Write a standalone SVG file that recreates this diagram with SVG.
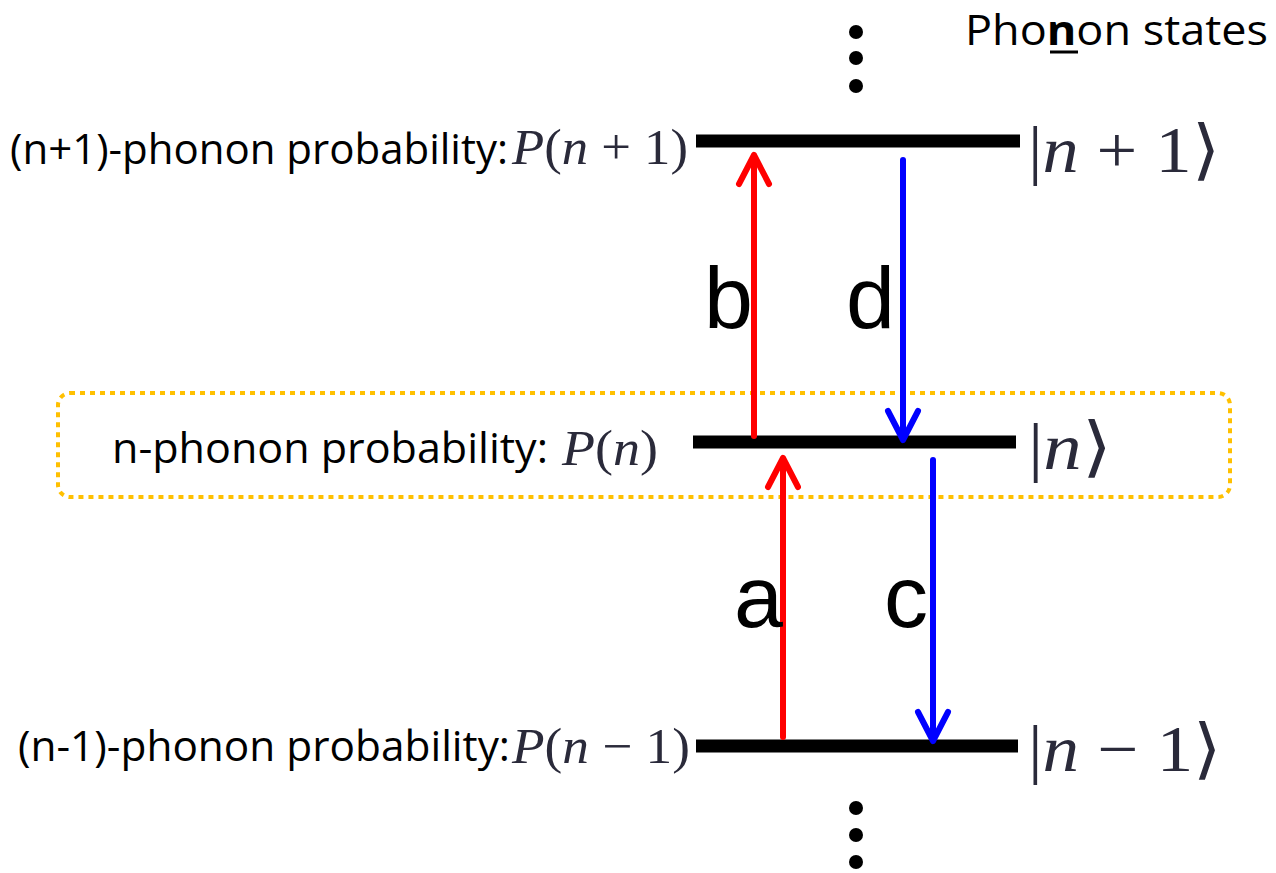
<svg xmlns="http://www.w3.org/2000/svg" width="1276" height="873" viewBox="0 0 1276 873">
<style>
.lbl{font-family:"Open Sans","Liberation Sans",sans-serif;font-size:42px;fill:#000}
.math{font-family:"Liberation Serif",serif;fill:#2a2a3a}
.mi{font-style:italic}
.big{font-family:"Liberation Sans",sans-serif;font-size:88px;fill:#000}
.lvl{stroke:#000;stroke-width:13}
.up{stroke:#ff0000;stroke-width:6;fill:none;stroke-linecap:round;stroke-linejoin:round}
.dn{stroke:#0000ff;stroke-width:6;fill:none;stroke-linecap:round;stroke-linejoin:round}
</style>
<rect width="1276" height="873" fill="#fff"/>
<g id="highlight">
<rect x="58" y="393" width="1172" height="104" rx="12" fill="none" stroke="#ffc000" stroke-width="4" stroke-dasharray="5 5"/>
</g>
<g id="title">
<text class="lbl" x="965" y="45" font-size="46" textLength="303" lengthAdjust="spacingAndGlyphs">Pho<tspan font-weight="bold">n</tspan>on states</text>
<line x1="1050" y1="52" x2="1078" y2="52" stroke="#000" stroke-width="3"/>
</g>
<g id="dots-top" fill="#000">
<circle cx="856" cy="32" r="7"/><circle cx="856" cy="58" r="7"/><circle cx="856" cy="86" r="7"/>
</g>
<g id="dots-bottom" fill="#000">
<circle cx="856" cy="808" r="7"/><circle cx="856" cy="835" r="7"/><circle cx="856" cy="862" r="7"/>
</g>
<g id="level-n-plus-1">
<line class="lvl" x1="696" y1="141" x2="1020" y2="141"/>
<text class="lbl" x="10" y="164" textLength="498" lengthAdjust="spacingAndGlyphs">(n+1)-phonon probability:</text>
<text class="math" x="512" y="164" font-size="50" textLength="176" lengthAdjust="spacingAndGlyphs"><tspan class="mi">P</tspan>(<tspan class="mi">n</tspan> + 1)</text>
<text class="math" x="1028" y="172" font-size="66" textLength="192" lengthAdjust="spacingAndGlyphs">|<tspan class="mi">n</tspan> + 1⟩</text>
</g>
<g id="level-n">
<line class="lvl" x1="693" y1="442" x2="1016" y2="442"/>
<text class="lbl" x="112" y="463" textLength="436" lengthAdjust="spacingAndGlyphs">n-phonon probability:</text>
<text class="math" x="562" y="465" font-size="50" textLength="96" lengthAdjust="spacingAndGlyphs"><tspan class="mi">P</tspan>(<tspan class="mi">n</tspan>)</text>
<text class="math" x="1028" y="469" font-size="66" textLength="84" lengthAdjust="spacingAndGlyphs">|<tspan class="mi">n</tspan>⟩</text>
</g>
<g id="level-n-minus-1">
<line class="lvl" x1="696" y1="746" x2="1018" y2="746"/>
<text class="lbl" x="18" y="761" textLength="492" lengthAdjust="spacingAndGlyphs">(n-1)-phonon probability:</text>
<text class="math" x="512" y="763" font-size="50" textLength="178" lengthAdjust="spacingAndGlyphs"><tspan class="mi">P</tspan>(<tspan class="mi">n</tspan> − 1)</text>
<text class="math" x="1028" y="771" font-size="66" textLength="194" lengthAdjust="spacingAndGlyphs">|<tspan class="mi">n</tspan> − 1⟩</text>
</g>
<g id="connectors">
<g id="arrow-b">
<line class="up" x1="754" y1="436" x2="754" y2="156"/>
<polyline class="up" points="739,184 754,155 769,184"/>
<text class="big" x="704" y="328">b</text>
</g>
<g id="arrow-d">
<line class="dn" x1="903" y1="160" x2="903" y2="438"/>
<polyline class="dn" points="888,411 903,440 918,411"/>
<text class="big" x="846" y="328">d</text>
</g>
<g id="arrow-a">
<line class="up" x1="783" y1="737" x2="783" y2="459"/>
<polyline class="up" points="768,487 783,458 798,487"/>
<text class="big" x="734" y="627">a</text>
</g>
<g id="arrow-c">
<line class="dn" x1="933" y1="460" x2="933" y2="738"/>
<polyline class="dn" points="918,712 933,741 948,712"/>
<text class="big" x="884" y="627">c</text>
</g>
</g>
</svg>
